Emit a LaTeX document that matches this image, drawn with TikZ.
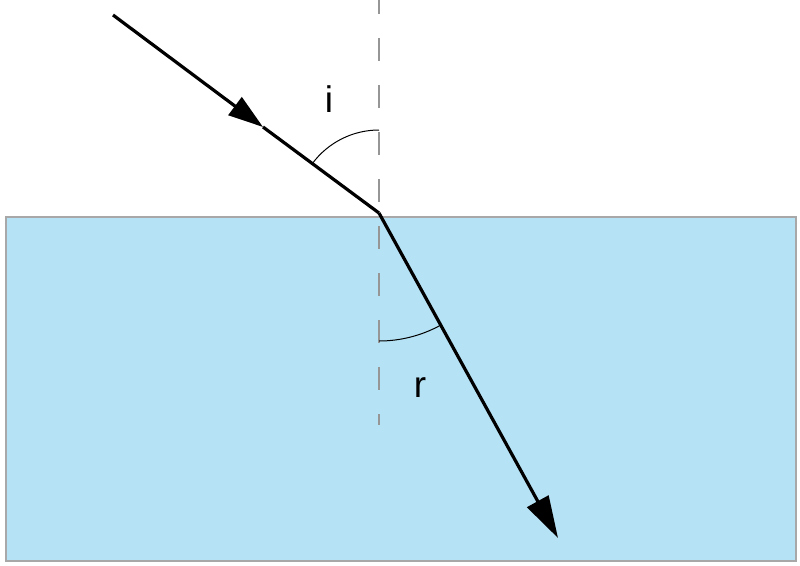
\documentclass[tikz,border=0pt]{standalone}
\usepackage{fontspec}
\setmainfont{Liberation Sans}
\usetikzlibrary{arrows.meta}
\definecolor{water}{RGB}{181,226,244}
\definecolor{edge}{RGB}{168,168,168}
\definecolor{normalc}{RGB}{150,150,150}
\tikzset{
  ray/.style={line width=3.2pt, black},
  anglearc/.style={line width=1pt, black},
  lbl/.style={font=\fontsize{37}{40}\selectfont, inner sep=0pt}
}
\begin{document}
\begin{tikzpicture}[x=1pt,y=-1pt]
\useasboundingbox (0,0) rectangle (800,565);
% water block
\node[draw=edge, line width=2pt, fill=water, minimum width=790pt, minimum height=344pt, inner sep=0pt, anchor=north west] (water) at (5,216) {};
% normal
\coordinate (J) at (379,213);
\coordinate (N1) at (379,0);
\coordinate (N2) at (379,425);
\draw[normalc, line width=1.3pt, dash pattern=on 23pt off 24pt, dash phase=9pt] (N1) -- (N2);
% angle arcs
\draw[anglearc] ([shift={(0,-83)}]J) arc[start angle=270, end angle=216.66, radius=83];
\draw[anglearc] ([shift={(0,128)}]J) arc[start angle=90, end angle=61.2, radius=128];
% incident ray
\coordinate (S) at (113,15);
\coordinate (A) at (263,127);
\draw[ray, -{Triangle[length=35pt,width=22pt]}] (S) -- (A);
\draw[ray, line join=round] (A) -- (J);
% refracted ray
\coordinate (E) at (558,538);
\draw[ray, -{Triangle[length=42pt,width=24pt]}] (J) -- (E);
% labels
\node[lbl] (li) at (329,99) {i};
\node[lbl] (lr) at (420,388) {r};
\end{tikzpicture}
\end{document}
